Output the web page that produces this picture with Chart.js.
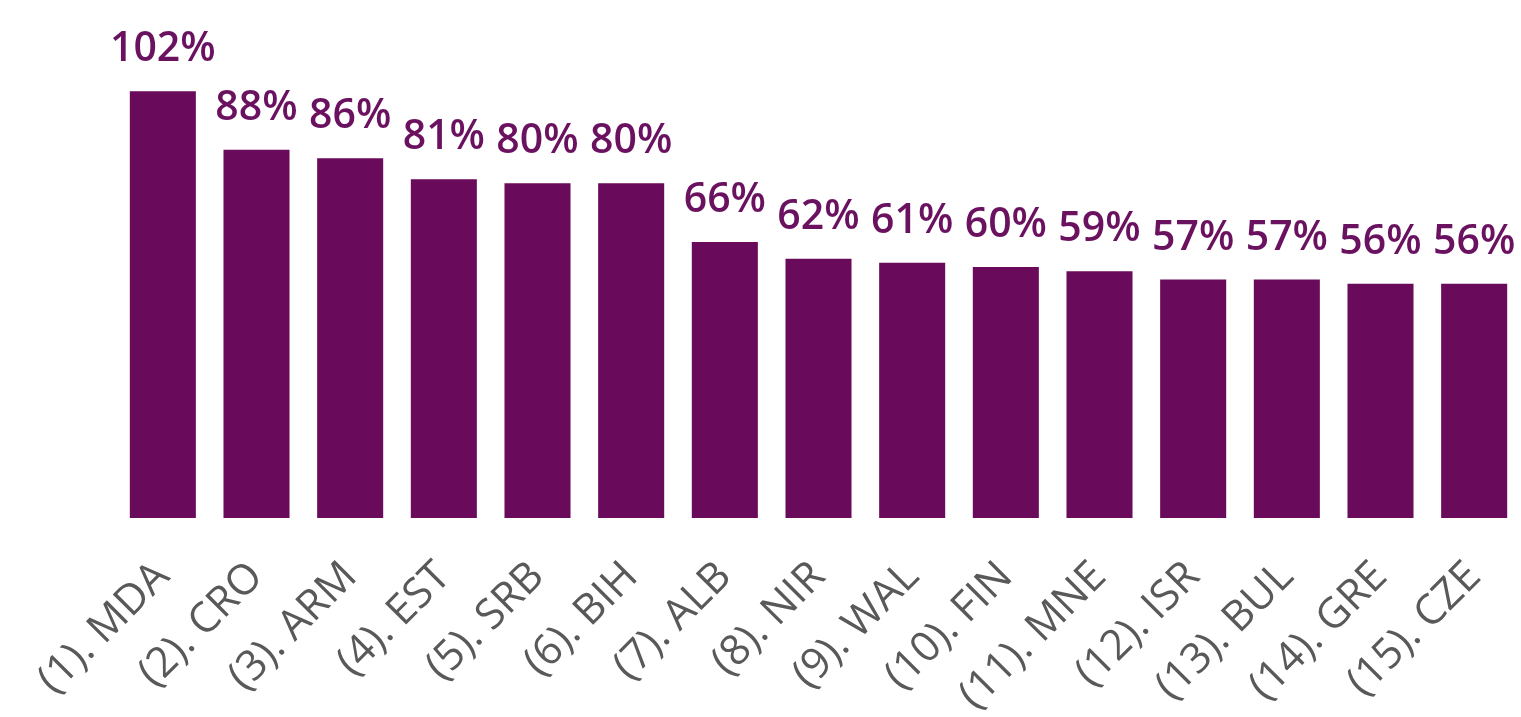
<!DOCTYPE html>
<html>
<head>
<meta charset="utf-8">
<script src="https://cdn.jsdelivr.net/npm/chart.js@4"></script>
<style>
  html, body { margin: 0; padding: 0; background: #ffffff; }
  #wrap { position: relative; width: 1521px; height: 717px; }
</style>
</head>
<body>
<div id="wrap"><canvas id="chart"></canvas></div>
<script>
const countries = [
  "(1). MDA", "(2). CRO", "(3). ARM", "(4). EST", "(5). SRB",
  "(6). BIH", "(7). ALB", "(8). NIR", "(9). WAL", "(10). FIN",
  "(11). MNE", "(12). ISR", "(13). BUL", "(14). GRE", "(15). CZE",
];
const percentValues = [102, 88, 86, 81, 80, 80, 66, 62, 61, 60, 59, 57, 57, 56, 56];

const barColor = "#6a0a5b";
const labelColor = "#6a1260";

// draws the "xx%" text above each bar
const valueLabels = {
  id: "valueLabels",
  afterDatasetsDraw(chart) {
    const ctx = chart.ctx;
    const meta = chart.getDatasetMeta(0);
    ctx.save();
    ctx.font = "600 41px 'Open Sans'";
    ctx.fillStyle = labelColor;
    ctx.textAlign = "center";
    ctx.textBaseline = "alphabetic";
    meta.data.forEach((bar, i) => {
      ctx.fillText(percentValues[i] + "%", bar.x, bar.y - 30);
    });
    ctx.restore();
  },
};

new Chart(document.getElementById("chart").getContext("2d"), {
  type: "bar",
  data: {
    labels: countries,
    datasets: [
      {
        data: percentValues,
        backgroundColor: barColor,
        borderWidth: 0,
        categoryPercentage: 1,
        barPercentage: 0.705,
      },
    ],
  },
  options: {
    responsive: true,
    maintainAspectRatio: false,
    animation: false,
    layout: { padding: { top: 16, left: 116, right: 0, bottom: 0 } },
    plugins: {
      legend: { display: false },
      tooltip: { enabled: false },
    },
    scales: {
      x: {
        grid: { display: false, drawTicks: false },
        border: { display: false },
        ticks: {
          color: "#595959",
          font: { family: "'Open Sans'", size: 42 },
          minRotation: 45,
          maxRotation: 45,
          autoSkip: false,
          padding: 34,
        },
        afterFit(scale) {
          scale.height = 199;
          scale.paddingLeft = 0;
          scale.paddingRight = 0;
        },
      },
      y: {
        display: false,
        min: 0,
        max: 120,
      },
    },
  },
  plugins: [valueLabels],
});
</script>
</body>
</html>
